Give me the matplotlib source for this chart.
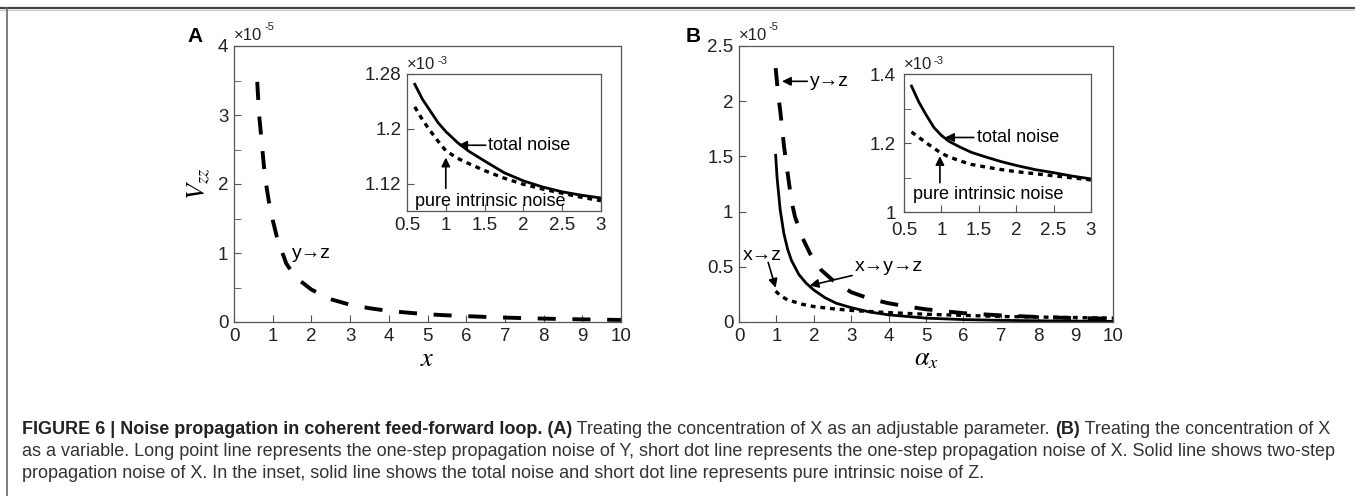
import numpy as np
import matplotlib
matplotlib.use('Agg')
import matplotlib.pyplot as plt
from matplotlib.lines import Line2D

plt.rcParams['font.family'] = ['Liberation Sans', 'DejaVu Sans']
plt.rcParams['mathtext.fontset'] = 'stix'
plt.rcParams['lines.scale_dashes'] = False

# panel A, main: one-step noise y->z against x (units 1e-5)
xA = [0.6, 0.65, 0.7, 0.75, 0.8, 0.9, 1.0, 1.1, 1.2, 1.35, 1.5, 1.7, 2.0, 2.5, 3.0,
      3.5, 4.0, 4.5, 5.0, 5.5, 6.0, 6.5, 7.0, 7.5, 8.0, 8.5, 9.0, 9.5, 10.0]
vA_yz = [3.48, 3.0, 2.7, 2.4, 2.1, 1.75, 1.48, 1.25, 1.08, 0.85, 0.72, 0.6, 0.47, 0.33, 0.25,
         0.2, 0.16, 0.135, 0.112, 0.097, 0.085, 0.074, 0.064, 0.056, 0.049, 0.043, 0.038, 0.034, 0.03]

# panel A, inset (units 1e-3)
xA_in = [0.6, 0.7, 0.8, 0.9, 1.0, 1.15, 1.3, 1.5, 1.75, 2.0, 2.25, 2.5, 2.75, 3.0]
vA_total = [1.265, 1.243, 1.226, 1.209, 1.196, 1.180, 1.167, 1.153, 1.136, 1.124, 1.115, 1.108, 1.103, 1.099]
vA_intr = [1.232, 1.213, 1.197, 1.182, 1.168, 1.157, 1.149, 1.139, 1.128, 1.119, 1.112, 1.106, 1.100, 1.095]

# panel B, main (units 1e-5)
xB_yz = [0.98, 1.05, 1.1, 1.15, 1.2, 1.3, 1.4, 1.5, 1.7, 1.9, 2.2, 2.5, 3.0, 3.5, 4.0, 4.5,
         5.0, 6.0, 7.0, 8.0, 9.0, 10.0]
vB_yz = [2.30, 2.05, 1.92, 1.77, 1.60, 1.35, 1.10, 0.95, 0.76, 0.62, 0.47, 0.38, 0.27, 0.21, 0.17, 0.14,
         0.115, 0.08, 0.06, 0.045, 0.035, 0.03]
xB_xyz = [0.98, 1.02, 1.1, 1.2, 1.3, 1.4, 1.6, 1.8, 2.0, 2.3, 2.6, 3.0, 3.5, 4.0, 5.0, 6.0, 7.0, 8.0, 9.0, 10.0]
vB_xyz = [1.51, 1.30, 1.02, 0.80, 0.66, 0.56, 0.43, 0.35, 0.29, 0.22, 0.17, 0.13, 0.09, 0.065, 0.035,
          0.022, 0.015, 0.011, 0.008, 0.006]
xB_xz = [0.98, 1.1, 1.3, 1.5, 1.7, 2.0, 2.5, 3.0, 3.5, 4.0, 5.0, 6.0, 7.0, 8.0, 9.0, 10.0]
vB_xz = [0.28, 0.24, 0.20, 0.18, 0.16, 0.14, 0.12, 0.105, 0.095, 0.085, 0.07, 0.06, 0.05, 0.045, 0.04, 0.035]

# panel B, inset (units 1e-3)
xB_in = [0.6, 0.7, 0.8, 0.9, 1.0, 1.1, 1.25, 1.4, 1.6, 1.8, 2.0, 2.25, 2.5, 2.75, 3.0]
vB_total = [1.365, 1.318, 1.28, 1.245, 1.222, 1.205, 1.188, 1.173, 1.159, 1.146, 1.135, 1.123, 1.114, 1.104, 1.096]
vB_intr = [1.232, 1.216, 1.200, 1.185, 1.170, 1.160, 1.148, 1.138, 1.130, 1.123, 1.117, 1.111, 1.105, 1.099, 1.093]

caption = [
    [("FIGURE 6 | Noise propagation in coherent feed-forward loop. (A)", True),
     (" Treating the concentration of X as an adjustable parameter. ", False),
     ("(B)", True),
     (" Treating the concentration of X", False)],
    [("as a variable. Long point line represents the one-step propagation noise of Y, short dot line "
      "represents the one-step propagation noise of X. Solid line shows two-step", False)],
    [("propagation noise of X. In the inset, solid line shows the total noise and short dot line "
      "represents pure intrinsic noise of Z.", False)],
]

W, H = 1355, 496
fig = plt.figure(figsize=(W / 100, H / 100), dpi=100)

def box(l, t, r, b):
    return [l / W, 1 - b / H, (r - l) / W, (b - t) / H]

TICK = 13.5
GREY = '#555555'
LONG = dict(color='k', lw=2.8, dashes=(13, 12), dash_capstyle='butt')
SHORT = dict(color='k', lw=2.4, dashes=(3.5, 3.5), dash_capstyle='butt')
SOLID = dict(color='k', lw=2.0)
ARROW = dict(arrowstyle='-|>', color='k', lw=1.2, mutation_scale=13, shrinkA=0, shrinkB=0)

def style(ax, size=TICK):
    for s in ax.spines.values():
        s.set_color(GREY)
        s.set_linewidth(0.9)
    ax.tick_params(which='both', direction='in', color=GREY, labelsize=size,
                   labelcolor='#222222', pad=4)
    ax.tick_params(which='major', length=5)
    ax.tick_params(which='minor', length=5)

def power(ax, exp):
    ax.text(0.0, 1.012, '×10', transform=ax.transAxes, fontsize=12, color='#222222',
            ha='left', va='bottom')
    ax.text(0.078 if exp == '-5' else 0.11, 1.05, exp, transform=ax.transAxes, fontsize=8,
            color='#222222', ha='left', va='bottom')

# ---- panel A
axA = fig.add_axes(box(234, 46, 621, 322))
axA.plot(xA, vA_yz, **LONG)
axA.set_xlim(0, 10)
axA.set_ylim(0, 4)
axA.set_xticks(range(0, 11))
axA.set_yticks(range(0, 5))
axA.set_yticks(np.arange(0.5, 4, 1.0), minor=True)
style(axA)
axA.set_xlabel('$x$', fontsize=19, labelpad=2)
axA.set_ylabel('$V_{zz}$', fontsize=19, labelpad=4)
axA.text(1.5, 1.0, 'y→z', fontsize=14, va='center')
power(axA, '-5')

insA = fig.add_axes(box(407, 74, 601, 211))
insA.plot(xA_in, vA_total, **SOLID)
insA.plot(xA_in, vA_intr, **SHORT)
insA.set_xlim(0.5, 3)
insA.set_ylim(1.08, 1.28)
insA.set_xticks(np.arange(0.5, 3.01, 0.5), ['0.5', '1', '1.5', '2', '2.5', '3'])
insA.set_yticks([1.12, 1.2, 1.28], ['1.12', '1.2', '1.28'])
style(insA)
insA.annotate('total noise', xy=(1.16, 1.176), xytext=(1.55, 1.176), fontsize=13,
              va='center', arrowprops=ARROW)
insA.annotate('', xy=(1.0, 1.158), xytext=(1.0, 1.113), arrowprops=ARROW)
insA.text(0.6, 1.094, 'pure intrinsic noise', fontsize=13, va='center')
insA.text(0.0, 1.012, '×10', transform=insA.transAxes, fontsize=12, color='#222222', va='bottom')
insA.text(0.155, 1.06, '-3', transform=insA.transAxes, fontsize=8, color='#222222', va='bottom')

# ---- panel B
axB = fig.add_axes(box(739, 46, 1113, 322))
axB.plot(xB_xz, vB_xz, **SHORT)
axB.plot(xB_xyz, vB_xyz, **SOLID)
axB.plot(xB_yz, vB_yz, **LONG)
axB.set_xlim(0, 10)
axB.set_ylim(0, 2.5)
axB.set_xticks(range(0, 11))
axB.set_yticks(np.arange(0, 2.51, 0.5), ['0', '0.5', '1', '1.5', '2', '2.5'])
style(axB)
axB.set_xlabel(r'$\alpha_x$', fontsize=19, labelpad=2)
axB.annotate('y→z', xy=(1.15, 2.18), xytext=(1.9, 2.18), fontsize=14, va='center',
             arrowprops=ARROW)
axB.annotate('', xy=(0.98, 0.31), xytext=(0.78, 0.54), arrowprops=ARROW)
axB.text(0.1, 0.6, 'x→z', fontsize=14, va='center')
axB.annotate('x→y→z', xy=(1.89, 0.33), xytext=(3.1, 0.5), fontsize=14, va='center',
             arrowprops=ARROW)
power(axB, '-5')

insB = fig.add_axes(box(904, 74, 1091, 212))
insB.plot(xB_in, vB_total, **SOLID)
insB.plot(xB_in, vB_intr, **SHORT)
insB.set_xlim(0.5, 3)
insB.set_ylim(1.0, 1.4)
insB.set_xticks(np.arange(0.5, 3.01, 0.5), ['0.5', '1', '1.5', '2', '2.5', '3'])
insB.set_yticks([1.0, 1.2, 1.4], ['1', '1.2', '1.4'])
insB.set_yticks([1.1, 1.3], minor=True)
style(insB)
insB.tick_params(axis='x', pad=7)
insB.tick_params(axis='y', pad=6)
insB.annotate('total noise', xy=(1.05, 1.216), xytext=(1.47, 1.216), fontsize=13,
              va='center', arrowprops=ARROW)
insB.annotate('', xy=(0.98, 1.162), xytext=(0.98, 1.085), arrowprops=ARROW)
insB.text(0.62, 1.052, 'pure intrinsic noise', fontsize=13, va='center')
insB.text(0.0, 1.012, '×10', transform=insB.transAxes, fontsize=12, color='#222222', va='bottom')
insB.text(0.16, 1.06, '-3', transform=insB.transAxes, fontsize=8, color='#222222', va='bottom')

# panel letters
fig.text(195 / W, 1 - 37 / H, 'A', fontsize=15, fontweight='bold', ha='center', va='center')
fig.text(693 / W, 1 - 37 / H, 'B', fontsize=15, fontweight='bold', ha='center', va='center')

# frame lines of the figure box
fig.add_artist(Line2D([0, 1], [1 - 8 / H, 1 - 8 / H], color='#444444', lw=1.6))
fig.add_artist(Line2D([0, 1], [1 - 10 / H, 1 - 10 / H], color='#cccccc', lw=0.8))
fig.add_artist(Line2D([7 / W, 7 / W], [0, 1 - 8 / H], color='#666666', lw=1.2))

# caption, fitted to the line width
fig.canvas.draw()
r = fig.canvas.get_renderer()
def place(line, y, size):
    x = 22 / W
    for s, bold in line:
        t = fig.text(x, y, s, fontsize=size, fontweight='bold' if bold else 'normal',
                     color='#222222' if bold else '#333333', va='center', ha='left')
        bb = t.get_window_extent(r)
        x += bb.width / W
    return x

probe = place(caption[0], -1, 10)
size = 10 * (1335 - 22) / (probe * W - 22)
for t in list(fig.texts)[-len(caption[0]):]:
    t.remove()
for i, line in enumerate(caption):
    place(line, 1 - (429 + 22.5 * i) / H, size)

fig.savefig('out.png', dpi=100)
